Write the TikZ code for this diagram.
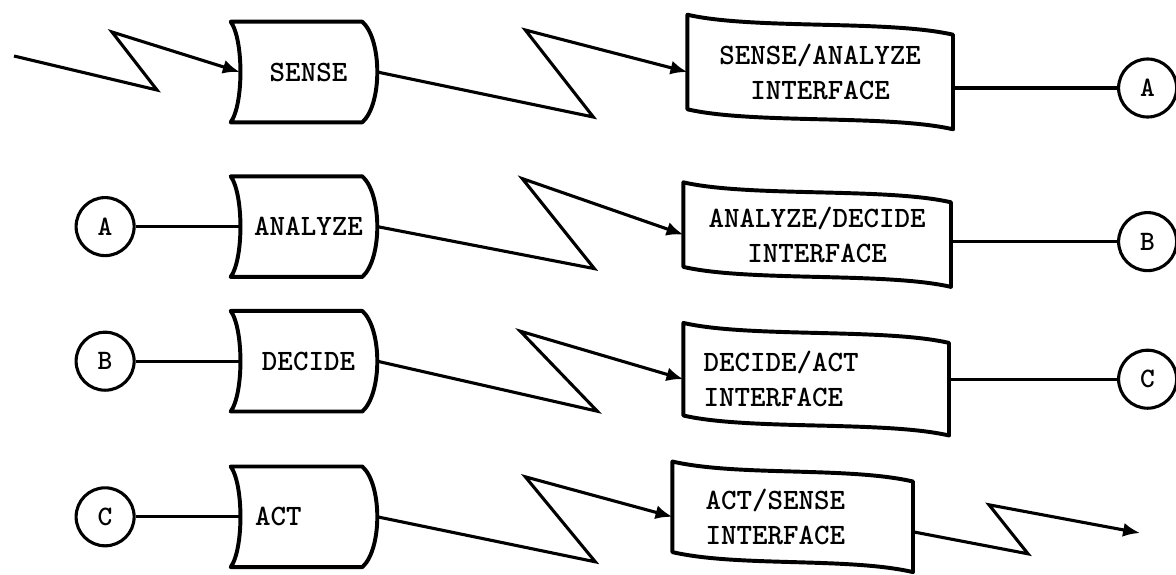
\documentclass[tikz,border=0pt]{standalone}
\usetikzlibrary{arrows.meta, positioning, calc}
\tikzset{
    storage/.style={
        rectangle, minimum width=3.425cm, minimum height=2.5cm, inner sep=0pt,
        text centered, font=\fontsize{21}{25}\selectfont\ttfamily\bfseries
    },
    interface/.style={
        rectangle, minimum width=6.625cm, minimum height=2.35cm, inner sep=0pt,
        align=center, font=\fontsize{21}{25}\selectfont\ttfamily\bfseries
    },
    offpage/.style={
        circle, draw, line width=2.2pt, minimum size=1.45cm, inner sep=0pt,
        font=\fontsize{20}{24}\selectfont\ttfamily\bfseries
    },
    boxline/.style={line width=2.8pt, line join=round},
    flow/.style={-{Latex[length=12pt, width=10pt]}, line width=2.2pt},
    link/.style={line width=2.2pt}
}

\begin{document}
\begin{tikzpicture}[x=0.025cm, y=-0.025cm]
    \useasboundingbox (0,0) rectangle (1176,574);

    % processes
    \node[storage]                        (sense)   at (308.5,72) {SENSE};
    \node[storage, below=1.35cm of sense]   (analyze) {ANALYZE};
    \node[storage, below=0.85cm of analyze] (decide)  {DECIDE};
    \node[storage, below=1.375cm of decide] (act)     {ACT\hspace*{1.5cm}};

    % interfaces
    \node[interface, right=7.75cm of sense]  (ifsa) {SENSE/ANALYZE\\INTERFACE};
    \node[interface, right=7.65cm of analyze, yshift=-0.2cm,
          minimum width=6.675cm, minimum height=2.1cm] (ifad) {ANALYZE/DECIDE\\INTERFACE};
    \node[interface, right=7.65cm of decide, yshift=-0.45cm, minimum height=2.3cm,
          align=left, text width=5.625cm, inner xsep=0.5cm] (ifda) {DECIDE/ACT\\INTERFACE};
    \node[interface, right=7.375cm of act, minimum width=6cm, minimum height=2.25cm,
          align=left, text width=4.35cm, inner xsep=0.825cm] (ifas) {ACT/SENSE\\INTERFACE};

    % connectors
    \node[offpage, left=2.6cm of analyze] (inA) {A};
    \node[offpage, left=2.6cm of decide]  (inB) {B};
    \node[offpage, left=2.6cm of act]     (inC) {C};
    \node[offpage, right=4.1cm of ifsa, yshift=-0.4cm]    (outA) {A};
    \node[offpage, right=4.15cm of ifad, yshift=-0.175cm] (outB) {B};
    \node[offpage, right=4.2cm of ifda]                   (outC) {C};

    % outlines
    \foreach \n in {sense, analyze, decide, act}
        \draw[boxline] ($(\n.north west)+(-9,0)$) -- ($(\n.north east)+(-15,0)$)
            .. controls ($(\n.north east)+(5,18)$) and ($(\n.south east)+(5,-18)$) .. ($(\n.south east)+(-15,0)$)
            -- ($(\n.south west)+(-9,0)$)
            .. controls ($(\n.south west)+(4,-18)$) and ($(\n.north west)+(4,18)$) .. ($(\n.north west)+(-9,0)$)
            -- cycle;
    \foreach \n in {ifsa, ifad, ifda, ifas}
        \draw[boxline] ($(\n.north west)+(0,-10)$)
            .. controls ($(\n.north west)+(65,5)$) and ($(\n.north east)+(-65,-5)$) .. ($(\n.north east)+(0,10)$)
            -- ($(\n.south east)+(0,10)$)
            .. controls ($(\n.south east)+(-65,-5)$) and ($(\n.south west)+(65,5)$) .. ($(\n.south west)+(0,-10)$)
            -- cycle;

    % flows
    \coordinate (src)  at (14,56);
    \coordinate (sink) at (1140,533);
    \draw[flow] (src) -- ++(143,34) -- ++(-45,-58) -- (sense.west);
    \draw[flow] (sense.east)   -- ++(216,45) -- ++(-68,-87) -- (ifsa.west);
    \draw[flow] (analyze.east) -- ++(217,42) -- ++(-72,-90) -- (ifad.west);
    \draw[flow] (decide.east)  -- ++(220,50) -- ++(-77,-80) -- (ifda.west);
    \draw[flow] (act.east)     -- ++(218,45) -- ++(-70,-85) -- (ifas.west);
    \draw[flow] ($(ifas.east)+(0,15)$) -- ++(115,22) -- ++(-39,-49) -- (sink);

    % links
    \draw[link] (inA) -- (analyze.west);
    \draw[link] (inB) -- (decide.west);
    \draw[link] (inC) -- (act.west);
    \draw[link] (outA -| ifsa.east) -- (outA);
    \draw[link] (outB -| ifad.east) -- (outB);
    \draw[link] (outC -| ifda.east) -- (outC);

\end{tikzpicture}
\end{document}
